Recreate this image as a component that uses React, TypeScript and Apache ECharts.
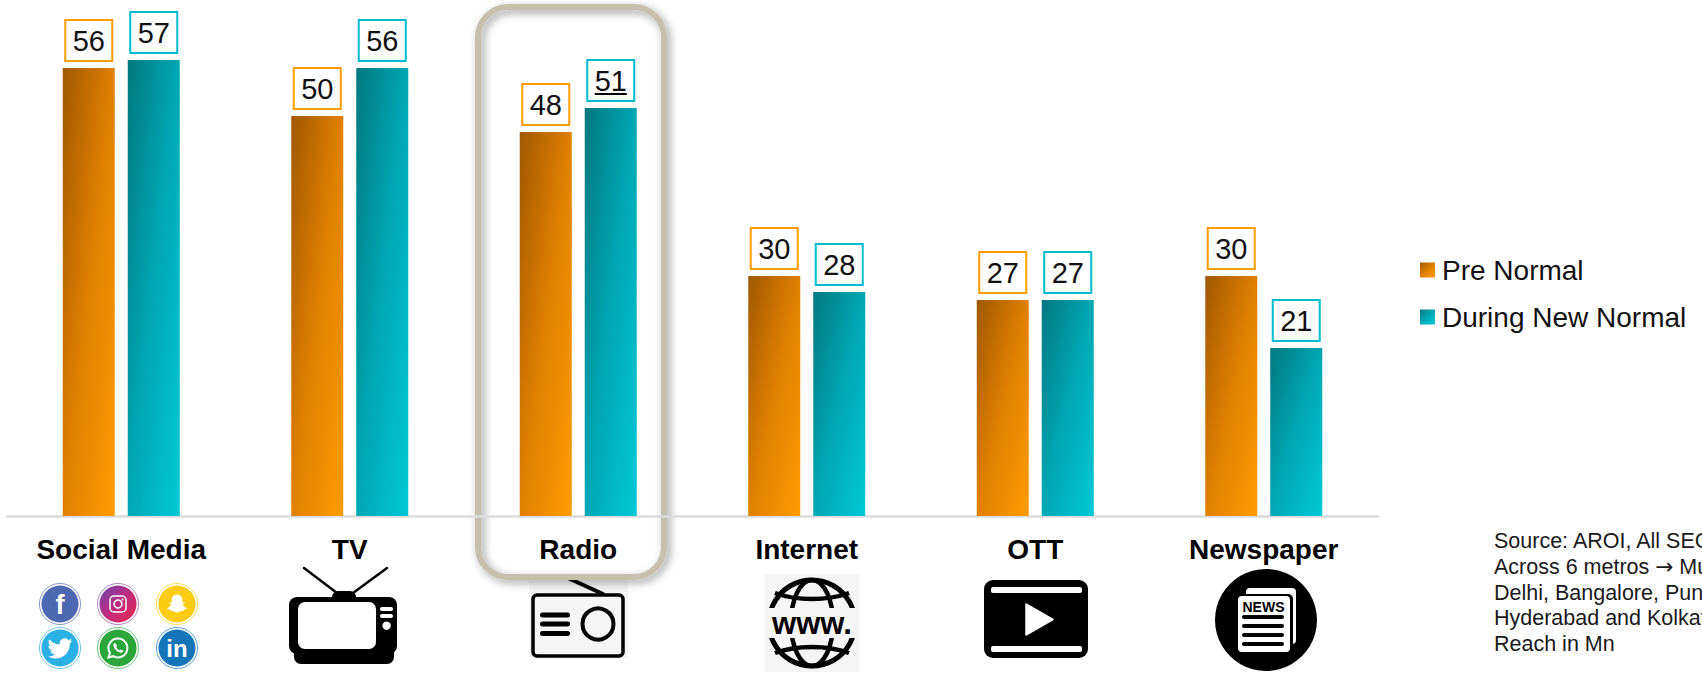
import React, { useEffect, useRef } from "react";
import * as echarts from "echarts";

const categories = ["Social Media", "TV", "Radio", "Internet", "OTT", "Newspaper"];
const preNormal = [56, 50, 48, 30, 27, 30];
const duringNewNormal = [57, 56, 51, 28, 27, 21];
const sourceLines = [
  "Source: AROI, All SEC",
  "Across 6 metros {arrow|→} Mumbai,",
  "Delhi, Bangalore, Pune,",
  "Hyderabad and Kolkata",
  "Reach in Mn",
];

const FONT = "'Liberation Sans', Arial, sans-serif";

const diagonal = (stops: string[]) =>
  new echarts.graphic.LinearGradient(0, 0, 1, 1, stops.map((color, i) => ({ offset: i / (stops.length - 1), color })));

const orangeFill = diagonal(["#A05800", "#E08000", "#FF9C00"]);
const tealFill = diagonal(["#007880", "#00A8B4", "#00C8D8"]);

echarts.graphic.registerShape(
  "birdGlyph",
  echarts.graphic.extendPath(
    "M23.95 4.57a10 10 0 0 1-2.82.77 4.96 4.96 0 0 0 2.16-2.72c-.95.55-2 .95-3.12 1.18a4.92 4.92 0 0 0-8.38 4.48C7.69 8.1 4.07 6.13 1.64 3.16a4.82 4.82 0 0 0-.66 2.48c0 1.71.87 3.2 2.19 4.1a4.9 4.9 0 0 1-2.23-.62v.06a4.92 4.92 0 0 0 3.95 4.83 4.9 4.9 0 0 1-2.2.08 4.94 4.94 0 0 0 4.6 3.42A9.87 9.87 0 0 1 0 19.54a14 14 0 0 0 7.56 2.21c9.05 0 14-7.5 14-13.98 0-.21 0-.42-.02-.63A9.94 9.94 0 0 0 24 4.59z",
    {}
  )
);
echarts.graphic.registerShape(
  "ghostGlyph",
  echarts.graphic.extendPath(
    "M12 2c3.2 0 5.3 2.4 5.3 5.4v2.8l1.9-.4c.6 0 .8.7.3 1l-1.8 1c.5 1.8 1.8 3.1 3.7 3.7.5.2.4.8 0 1-1 .4-1.9.5-2.2.7-.2.4-.2 1-.6 1.1-.7.1-1.6-.2-2.6.1-1 .3-2 1.6-4 1.6s-3-1.3-4-1.6c-1-.3-1.9 0-2.6-.1-.4-.1-.4-.7-.6-1.1-.3-.2-1.2-.3-2.2-.7-.4-.2-.5-.8 0-1 1.9-.6 3.2-1.9 3.7-3.7l-1.8-1c-.5-.3-.3-1 .3-1l1.9.4V7.4C6.7 4.4 8.8 2 12 2z",
    {}
  )
);
echarts.graphic.registerShape(
  "bubbleGlyph",
  echarts.graphic.extendPath("M12 2.5a9.5 9.5 0 0 0-8.1 14.5L2.5 21.5l4.6-1.3A9.5 9.5 0 1 0 12 2.5z", {})
);
echarts.graphic.registerShape(
  "handsetGlyph",
  echarts.graphic.extendPath(
    "M8.5 7c-.5 0-1.2.6-1.2 2 0 2.6 3.6 7.2 7.6 7.7 1.4.2 2.4-.9 2.4-1.9 0-.4-2-1.4-2.4-1.3-.4.1-.8 1-1.2 1-.9 0-3.2-2-3.5-3.2 0-.4.8-.9.8-1.3C10.9 9.4 9.6 7 8.5 7z",
    {}
  )
);

const seg = (x1: number, y1: number, x2: number, y2: number, lineWidth: number, stroke = "#000") => ({
  type: "line",
  shape: { x1, y1, x2, y2 },
  style: { stroke, lineWidth, lineCap: "round" },
});
const box = (x: number, y: number, width: number, height: number, r: number | number[], fill: string) => ({
  type: "rect",
  shape: { x, y, width, height, r },
  style: { fill },
});
const label = (x: number, y: number, text: string, fontSize: number, fill: string, fontWeight = "bold") => ({
  type: "text",
  x,
  y,
  style: { text, fontSize, fontWeight, fontFamily: FONT, fill, align: "center", verticalAlign: "middle" },
});
const badge = (cx: number, cy: number, fill: any, outline: string) => [
  { type: "circle", shape: { cx, cy, r: 20.5 }, style: { fill: "#fff", stroke: outline, lineWidth: 1, opacity: 0.7 } },
  { type: "circle", shape: { cx: cx, cy: cy, r: 18.5 }, style: { fill } },
];

// Row of platform badges under "Social Media"
const socialIcons = () => [
  ...badge(60, 604, "#4C68B0", "#4C68B0"),
  label(60, 605, "f", 27, "#fff"),
  ...badge(118, 604, diagonal(["#6A45B0", "#C02C80", "#E8264E"]), "#8A4CA8"),
  { type: "rect", shape: { x: 110, y: 596, width: 16, height: 16, r: 4 }, style: { fill: "none", stroke: "#fff", lineWidth: 1.5 } },
  { type: "circle", shape: { cx: 118, cy: 604, r: 4 }, style: { fill: "none", stroke: "#fff", lineWidth: 1.5 } },
  { type: "circle", shape: { cx: 122.5, cy: 599.5, r: 1 }, style: { fill: "#fff" } },
  ...badge(177, 604, "#FCCB12", "#FCCB12"),
  { type: "ghostGlyph", x: 165, y: 592.5, scaleX: 1, scaleY: 1, style: { fill: "#fff" } },
  ...badge(60, 648, "#2BB0E3", "#2BB0E3"),
  { type: "birdGlyph", x: 47.5, y: 636, scaleX: 1.04, scaleY: 1.04, style: { fill: "#fff" } },
  ...badge(118, 648, "#2BA63A", "#2BA63A"),
  { type: "bubbleGlyph", x: 106, y: 636, scaleX: 1, scaleY: 1, style: { fill: "none", stroke: "#fff", lineWidth: 2 } },
  { type: "handsetGlyph", x: 106, y: 636, scaleX: 1, scaleY: 1, style: { fill: "#fff" } },
  ...badge(177, 648, "#1476B8", "#1476B8"),
  label(177, 648, "in", 24, "#fff"),
];

const tvIcon = () => [
  seg(304, 568, 337, 593, 2.5),
  seg(387, 568, 353, 593, 2.5),
  box(332, 591, 24, 12, 7, "#000"),
  box(289, 597, 108, 57, 8, "#000"),
  box(294, 650, 100, 14, [0, 0, 7, 7], "#000"),
  box(298, 602, 78, 47, 7, "#fff"),
  box(380, 607, 13, 4, 2, "#fff"),
  box(380, 614, 13, 4, 2, "#fff"),
  { type: "circle", shape: { cx: 386.6, cy: 625.7, r: 4.2 }, style: { fill: "#fff" } },
];

const radioIcon = () => [
  box(529, 578, 99, 81, 0, "#F5F5F5"),
  seg(569, 578.5, 603, 594, 4),
  { type: "rect", shape: { x: 533, y: 595, width: 90, height: 61, r: 4 }, style: { fill: "#F5F5F5", stroke: "#000", lineWidth: 3.5 } },
  box(540, 612.5, 30, 5, 2.5, "#000"),
  box(540, 621.5, 30, 5, 2.5, "#000"),
  box(540, 631, 30, 5, 2.5, "#000"),
  { type: "circle", shape: { cx: 598, cy: 624, r: 15.5 }, style: { fill: "none", stroke: "#000", lineWidth: 4 } },
];

const globeIcon = () => {
  const cx = 812;
  const cy = 623;
  return [
    box(765, 574, 94, 98, 0, "#F5F5F5"),
    { type: "circle", shape: { cx, cy, r: 43 }, style: { fill: "none", stroke: "#000", lineWidth: 5 } },
    { type: "ellipse", shape: { cx, cy, rx: 21, ry: 43 }, style: { fill: "none", stroke: "#000", lineWidth: 4.5 } },
    { type: "bezierCurve", shape: { x1: cx - 37, y1: cy - 30, cpx1: cx - 15, cpy1: cy - 22, cpx2: cx + 15, cpy2: cy - 22, x2: cx + 37, y2: cy - 30 }, style: { fill: "none", stroke: "#000", lineWidth: 4.5 } },
    { type: "bezierCurve", shape: { x1: cx - 37, y1: cy + 30, cpx1: cx - 15, cpy1: cy + 22, cpx2: cx + 15, cpy2: cy + 22, x2: cx + 37, y2: cy + 30 }, style: { fill: "none", stroke: "#000", lineWidth: 4.5 } },
    box(cx - 47, cy - 15, 94, 30, 0, "#F5F5F5"),
    label(cx, cy, "www.", 31, "#000"),
  ];
};

const playerIcon = () => [
  box(984, 580, 104, 78, 9, "#000"),
  box(991, 587, 91, 6, 2, "#fff"),
  box(991, 646, 91, 6, 2, "#fff"),
  { type: "polygon", shape: { points: [[1026, 604], [1053, 619.5], [1026, 635]] }, style: { fill: "#fff", stroke: "#fff", lineWidth: 1.5, lineJoin: "round" } },
];

const newsIcon = () => [
  { type: "circle", shape: { cx: 1266, cy: 620, r: 51 }, style: { fill: "#000" } },
  box(1246, 588, 50, 56, 4, "#fff"),
  box(1236, 594, 57, 60, 5, "#000"),
  box(1238, 596, 52, 56, 4, "#fff"),
  label(1263.5, 607, "NEWS", 14, "#000"),
  box(1242, 615, 42, 4, 2, "#000"),
  box(1242, 624, 42, 4, 2, "#000"),
  box(1242, 633, 42, 4, 2, "#000"),
  box(1242, 642, 42, 4, 2, "#000"),
];

const radioHighlight = () => ({
  type: "rect",
  shape: { x: 478, y: 7, width: 186, height: 570, r: 30 },
  style: {
    fill: "none",
    stroke: "#C6BFAE",
    lineWidth: 6,
    shadowBlur: 9,
    shadowColor: "rgba(0,0,0,0.4)",
    shadowOffsetX: 3,
    shadowOffsetY: 3,
  },
});

const sourceNote = () =>
  sourceLines.map((text, i) => ({
    type: "text",
    x: 1494,
    y: 541 + i * 25.8,
    style: {
      text,
      fontSize: 21.5,
      fontFamily: FONT,
      fill: "#1a1a1a",
      verticalAlign: "middle",
      rich: { arrow: { fontFamily: "'DejaVu Sans'", fontSize: 21.5, fill: "#1a1a1a" } },
    },
  }));

const valueLabel = (borderColor: string) => ({
  show: true,
  position: "top",
  distance: 8,
  color: "#111",
  fontFamily: FONT,
  fontSize: 29,
  width: 45,
  height: 39,
  lineHeight: 39,
  align: "center",
  backgroundColor: "#fff",
  borderColor,
  borderWidth: 2,
});

export default function App() {
  const ref = useRef<HTMLDivElement>(null);

  useEffect(() => {
    const chart = echarts.init(ref.current!, null, { renderer: "svg" });
    const baseElements = [
      ...socialIcons(),
      ...tvIcon(),
      ...radioIcon(),
      ...globeIcon(),
      ...playerIcon(),
      ...newsIcon(),
      radioHighlight(),
      ...sourceNote(),
    ];

    chart.setOption({
      animation: false,
      backgroundColor: "#fff",
      grid: { left: 7, width: 1371, top: 4, height: 512, containLabel: false },
      legend: {
        orient: "vertical",
        left: 1420,
        top: 256,
        padding: 0,
        itemWidth: 15,
        itemHeight: 15,
        itemGap: 19,
        icon: "rect",
        textStyle: { fontFamily: FONT, fontSize: 28, color: "#111", padding: [0, 0, 0, 2] },
        data: ["Pre Normal", "During New Normal"],
      },
      xAxis: {
        type: "category",
        data: categories,
        axisTick: { show: false },
        axisLine: { lineStyle: { color: "#DCDCDC", width: 2.5 } },
        axisLabel: { interval: 0, margin: 19, fontFamily: FONT, fontSize: 28, fontWeight: "bold", color: "#000" },
      },
      yAxis: { type: "value", min: 0, max: 64, show: false },
      series: [
        {
          name: "Pre Normal",
          type: "bar",
          data: preNormal,
          barWidth: 52,
          barGap: "25%",
          itemStyle: { color: orangeFill },
          label: valueLabel("#FF9C00"),
        },
        {
          name: "During New Normal",
          type: "bar",
          data: duringNewNormal,
          barWidth: 52,
          itemStyle: { color: tealFill },
          label: valueLabel("#00BCD0"),
        },
      ],
      graphic: baseElements,
    });

    // The Radio figure of the second series carries an underline, placed from the axis scales
    const radio = categories.indexOf("Radio");
    const [cx, top] = chart.convertToPixel({ gridIndex: 0 }, [radio, duringNewNormal[radio]]);
    chart.setOption({
      graphic: [
        ...baseElements,
        {
          type: "line",
          z: 100,
          shape: { x1: cx + 16.5, y1: top - 14, x2: cx + 48.5, y2: top - 14 },
          style: { stroke: "#000", lineWidth: 2 },
        },
      ],
    });

    return () => chart.dispose();
  }, []);

  return <div ref={ref} style={{ position: "absolute", left: 0, top: 0, width: 1702, height: 674 }} />;
}
